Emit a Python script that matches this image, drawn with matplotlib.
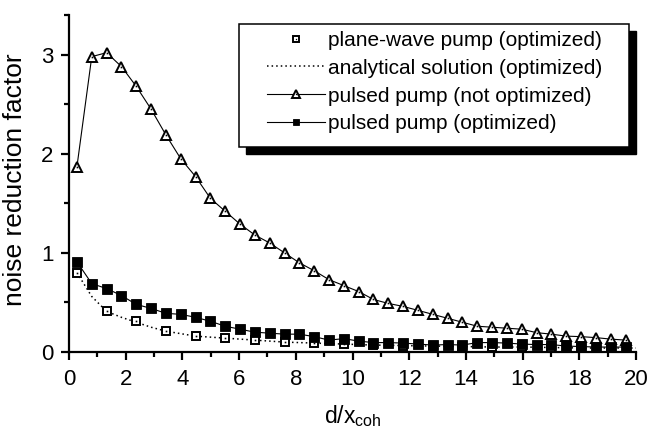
#!/usr/bin/env python
#-*- coding: utf-8 -*-

import numpy as np
import matplotlib
matplotlib.use('Agg')
from matplotlib import pyplot as plt
from matplotlib.patches import Rectangle
from matplotlib.ticker import MultipleLocator, FixedLocator

plt.rcParams['font.family'] = ['Liberation Sans', 'DejaVu Sans']
plt.rcParams['mathtext.fontset'] = 'custom'
plt.rcParams['mathtext.rm'] = 'Liberation Sans'

# sample positions d/x_coh (same grid for all pulsed-pump points)
x_step = 0.523
x_pulsed = [round(0.28 + i * x_step, 3) for i in range(38)]

# pulsed pump (not optimized), triangles
pulsed_not_opt = [1.87, 2.98, 3.02, 2.88, 2.68, 2.45, 2.19, 1.95, 1.77, 1.55,
                  1.42, 1.29, 1.18, 1.10, 1.00, 0.90, 0.82, 0.73, 0.67, 0.61,
                  0.53, 0.49, 0.46, 0.42, 0.38, 0.34, 0.30, 0.26, 0.25, 0.24,
                  0.23, 0.195, 0.18, 0.16, 0.155, 0.145, 0.13, 0.12]

# pulsed pump (optimized), filled squares
pulsed_opt = [0.91, 0.69, 0.64, 0.57, 0.48, 0.44, 0.39, 0.38, 0.35, 0.31,
              0.26, 0.23, 0.20, 0.19, 0.18, 0.18, 0.155, 0.12, 0.135, 0.11,
              0.095, 0.095, 0.09, 0.08, 0.07, 0.075, 0.07, 0.095, 0.095, 0.09,
              0.08, 0.075, 0.075, 0.06, 0.055, 0.05, 0.05, 0.05]

# plane-wave pump (optimized), open squares: every other grid point
x_plane = x_pulsed[::2]
plane_wave = [0.80, 0.41, 0.31, 0.21, 0.16, 0.14, 0.12, 0.10, 0.09, 0.08,
              0.07, 0.065, 0.06, 0.055, 0.05, 0.05, 0.045, 0.04, 0.04]

# analytical solution (dotted)
x_analytic = x_pulsed + [20.0]
analytic = [0.80, 0.56, 0.41, 0.35, 0.30, 0.25, 0.21, 0.185, 0.16, 0.15,
            0.14, 0.13, 0.12, 0.11, 0.10, 0.095, 0.09, 0.085, 0.08, 0.075,
            0.07, 0.068, 0.065, 0.062, 0.06, 0.058, 0.055, 0.053, 0.05, 0.05,
            0.05, 0.048, 0.045, 0.043, 0.04, 0.04, 0.04, 0.04, 0.04]

legend_labels = ['plane-wave pump (optimized)',
                 'analytical solution (optimized)',
                 'pulsed pump (not optimized)',
                 'pulsed pump (optimized)']

W, H = 649, 436
fig = plt.figure(figsize=(W / 100, H / 100), dpi=100)
ax = fig.add_axes([69 / W, 1 - 352 / H, 567 / W, 337 / H])

h_an, = ax.plot(x_analytic, analytic, color='k', lw=1.1, ls=(0, (1, 2)), zorder=2)
h_pw, = ax.plot(x_plane, plane_wave, ls='none', marker='s', ms=6, mfc='white',
                mec='k', mew=1.4, zorder=3)
d_pw, = ax.plot(x_plane, plane_wave, ls='none', marker='s', ms=1.2, mfc='k',
                mec='k', mew=0, zorder=3.1)
h_tri, = ax.plot(x_pulsed, pulsed_not_opt, color='k', lw=0.8, marker='^', ms=7.5,
                 mfc='white', mec='k', mew=1.4, zorder=4)
d_tri, = ax.plot(x_pulsed, pulsed_not_opt, ls='none', marker='s', ms=1.2,
                 mfc='k', mec='k', mew=0, zorder=4.1)
h_sq, = ax.plot(x_pulsed, pulsed_opt, color='k', lw=0.8, marker='s', ms=6.5,
                mfc='k', mec='k', mew=0.6, zorder=5)

ax.set_xlim(0, 20)
ax.set_ylim(0, 3.4)
ax.xaxis.set_major_locator(MultipleLocator(2))
ax.xaxis.set_minor_locator(MultipleLocator(1))
ax.yaxis.set_major_locator(MultipleLocator(1))
ax.yaxis.set_minor_locator(FixedLocator([0.5, 1.5, 2.5, 3.4]))

for s in ['top', 'right']:
    ax.spines[s].set_visible(False)
for s in ['left', 'bottom']:
    ax.spines[s].set_linewidth(1.6)
ax.tick_params(which='major', direction='out', length=6, width=1.6,
               labelsize=16)
ax.tick_params(axis='x', which='major', pad=6)
ax.tick_params(axis='y', which='major', pad=5)
ax.tick_params(which='minor', direction='out', length=3.5, width=1.6)

ax.set_xlabel(r'd/x$_{\mathregular{coh}}$', fontsize=16.5, labelpad=10)
ax.set_ylabel('noise reduction factor', fontsize=19)
ax.yaxis.set_label_coords(-0.074, 0.51)

# legend box with solid black drop shadow
box_l, box_t, box_r, box_b = 239, 24, 629, 147
sh = 7
ax.add_patch(Rectangle(((box_l + sh) / W, 1 - (box_b + sh) / H),
                       (box_r - box_l) / W, (box_b - box_t) / H,
                       transform=fig.transFigure, facecolor='k', edgecolor='k',
                       clip_on=False, zorder=8))
ax.add_patch(Rectangle((box_l / W, 1 - box_b / H),
                       (box_r - box_l) / W, (box_b - box_t) / H,
                       transform=fig.transFigure, facecolor='white',
                       edgecolor='k', lw=1.1, clip_on=False, zorder=9))

leg = ax.legend([(h_pw, d_pw), h_an, (h_tri, d_tri), h_sq], legend_labels,
                loc='upper left', bbox_to_anchor=(267 / W, 1 - 31 / H),
                bbox_transform=fig.transFigure, fontsize=15,
                frameon=False, handlelength=2.8, handletextpad=0.15,
                labelspacing=0.42, borderpad=0, borderaxespad=0,
                markerscale=0.75)
leg.set_zorder(10)

fig.savefig('out.png', dpi=100)
